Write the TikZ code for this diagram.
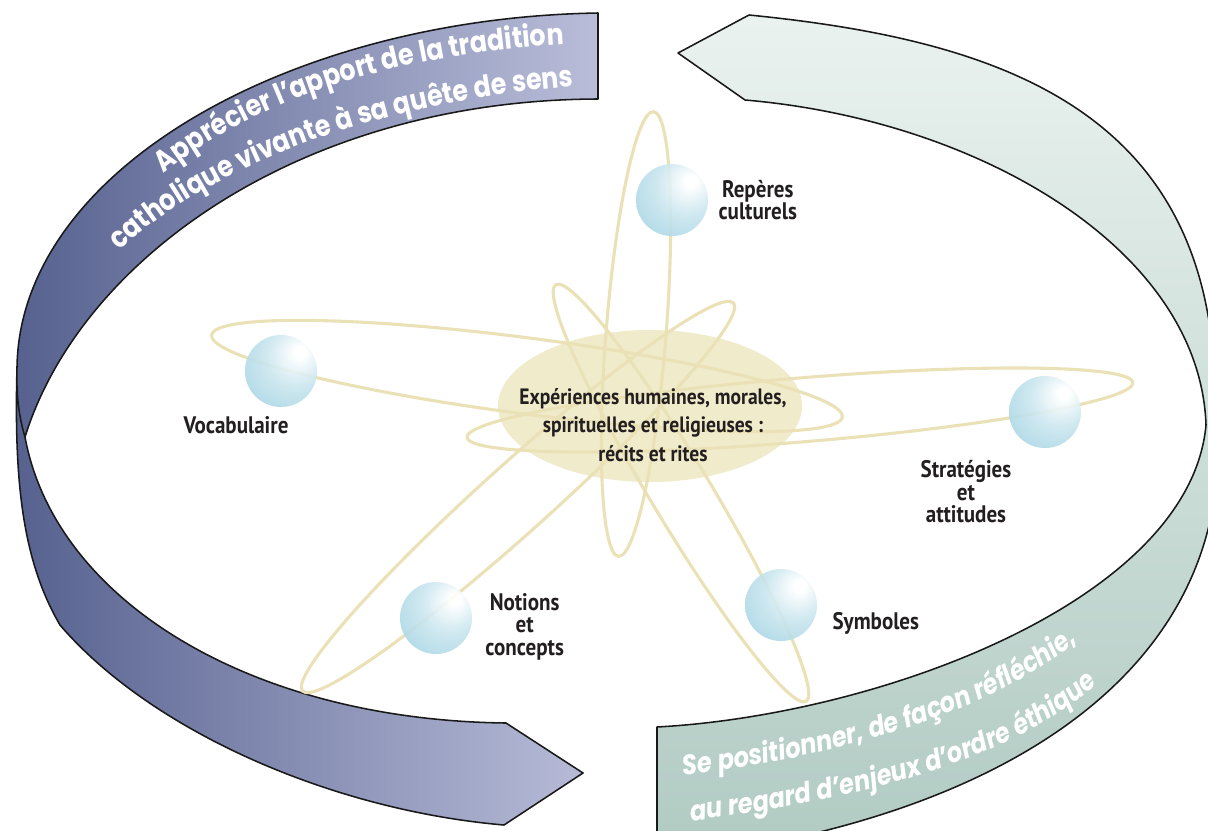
\documentclass[tikz,border=0pt]{standalone}
\usepackage{fontspec}
\setmainfont{PT Sans}
\newfontfamily\labelfont[FakeStretch=0.88]{PT Sans}
\newfontfamily\bandfont[FakeStretch=0.86]{Poppins}
\usetikzlibrary{positioning, decorations.text}
\definecolor{bandnavy}{HTML}{56618F}
\definecolor{bandnavymid}{HTML}{737DA6}
\definecolor{bandlilac}{HTML}{B9BDD9}
\definecolor{bandmist}{HTML}{EAF2EF}
\definecolor{bandsage}{HTML}{B1CBC3}
\definecolor{orbitline}{HTML}{EAE2B6}
\definecolor{hubfill}{HTML}{F0EBCB}
\definecolor{orbblue}{HTML}{6DBAD3}
\definecolor{inkdark}{HTML}{231F20}
\pgfdeclareradialshading{orbshade}{\pgfpoint{14bp}{14bp}}{color(0bp)=(white); color(4bp)=(white); color(20bp)=(orbblue!35); color(40bp)=(orbblue!62); color(58bp)=(orbblue!88); color(72bp)=(orbblue)}
\tikzset{
  band/.style={draw=black!90, line width=1.1pt, line join=round},
  orbit/.style={draw=orbitline, line width=2.2pt},
  orb/.style={circle, minimum size=1.8cm, inner sep=0pt, shading=orbshade, fill opacity=0.9},
  lbl/.style={font=\labelfont\bfseries\fontsize{17}{16}\selectfont, text=inkdark, align=center, inner sep=0pt},
  hub/.style={font=\labelfont\bfseries\fontsize{15.8}{20.3}\selectfont, text=inkdark, align=center, inner sep=0pt},
  bandtext/.style={decorate, decoration={text along path, text align=center,
      text={|\bandfont\bfseries\fontsize{21}{21}\selectfont\color{white}|#1}}},
  bandtextit/.style={decorate, decoration={text along path, text align=center,
      text={|\bandfont\bfseries\itshape\fontsize{20}{20}\selectfont\color{white}|#1}}},
}

\begin{document}
\begin{tikzpicture}[x=0.025cm, y=-0.025cm]
  \useasboundingbox (0,0) rectangle (1208,830);
  \clip (0,0) rectangle (1208,830);
  \fill[white] (0,0) rectangle (1208,830);

  % twisted ribbon on the left, arrow pointing right at the bottom
  \draw[band, left color=bandnavy, middle color=bandnavymid, right color=bandlilac]
    (598,13) .. controls (290,18) and (20,170) .. (17,367)
    .. controls (16,400) and (20,420) .. (25,437)
    .. controls (80,260) and (300,100) .. (598,99) -- cycle
    (17,367) .. controls (14,480) and (22,560) .. (60,625)
    .. controls (150,730) and (330,810) .. (504,825)
    -- (583,773) -- (506,723)
    .. controls (250,720) and (55,600) .. (25,437)
    .. controls (20,420) and (16,400) .. (17,367) -- cycle;

  % ribbon on the right, arrow pointing left at the top
  \draw[band, top color=bandmist, bottom color=bandsage]
    (678,53) -- (749,15) .. controls (1000,40) and (1215,110) .. (1215,400)
    .. controls (1245,640) and (1050,790) .. (760,845) -- (657,845) -- (657,727)
    .. controls (880,715) and (1190,600) .. (1206,425)
    .. controls (1200,250) and (980,120) .. (745,100) -- cycle;

  \path[bandtext={Apprécier l’apport de la tradition}]
    (156,180) .. controls (250,100) and (400,52) .. (574,44);
  \path[bandtext={catholique vivante à sa quête de sens}]
    (116,254) .. controls (205,168) and (380,100) .. (578,86);
  \path[bandtextit={Se positionner, de façon réfléchie,}]
    (670,777) .. controls (830,760) and (1000,712) .. (1088,632);
  \path[bandtextit={au regard d’enjeux d’ordre éthique}]
    (674,823) .. controls (840,804) and (1020,764) .. (1110,672);

  \fill[hubfill] (650,406) ellipse [x radius=152, y radius=76];

  \draw[orbit, rotate around={-4.5:(636,334)}] (636,334) ellipse [x radius=30, y radius=223];
  \draw[orbit, rotate around={-7.4:(527,376)}] (527,376) ellipse [x radius=318, y radius=38];
  \draw[orbit, rotate around={4.7:(800,410)}] (800,410) ellipse [x radius=334, y radius=32];
  \draw[orbit, rotate around={42:(518,497)}] (518,497) ellipse [x radius=290, y radius=34];
  \draw[orbit, rotate around={-59:(681,493)}] (681,493) ellipse [x radius=243, y radius=30];

  \node[orb] (s-rep) at (672,200) {};
  \node[orb] (s-voc) at (281,371) {};
  \node[orb] (s-strat) at (1045,412) {};
  \node[orb] (s-notions) at (436,618) {};
  \node[orb] (s-sym) at (781,605) {};

  \node[hub] (core) at (653,425) {Expériences humaines, morales,\\spirituelles et religieuses~:\\récits et rites};
  \node[lbl, right=0.25cm of s-rep] (rep) {Repères\\culturels};
  \node[lbl, below=0.22cm of s-voc, xshift=-1.125cm] (voc) {Vocabulaire};
  \node[lbl, below=0.25cm of s-strat, xshift=-1.975cm, yshift=-0.05cm] (strat) {Stratégies\\et\\attitudes};
  \node[lbl, right=0.32cm of s-notions, yshift=-0.22cm] (notions) {Notions\\et\\concepts};
  \node[lbl, right=0.375cm of s-sym, yshift=-0.45cm] (sym) {Symboles};
\end{tikzpicture}
\end{document}
